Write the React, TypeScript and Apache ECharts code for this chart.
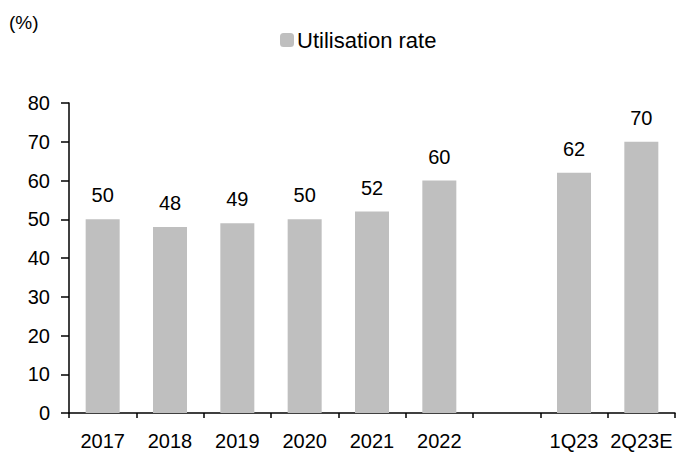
import React, { useEffect, useRef } from "react";
import * as echarts from "echarts";

const categories = ["2017", "2018", "2019", "2020", "2021", "2022", "", "1Q23", "2Q23E"];
const utilisation = [50, 48, 49, 50, 52, 60, null, 62, 70];
const yTicks = { min: 0, max: 80, interval: 10 };

export default function App() {
  const ref = useRef<HTMLDivElement>(null);
  useEffect(() => {
    if (!ref.current) return;
    const chart = echarts.init(ref.current, undefined, { renderer: "svg" });
    const font = "Liberation Sans, Arial, sans-serif";
    chart.setOption({
      animation: false,
      textStyle: { fontFamily: font },
      graphic: [
        {
          type: "text",
          left: 9,
          top: 13,
          style: { text: "(%)", fontSize: 19, fontFamily: font, fill: "#000" },
        },
      ],
      legend: {
        top: 24,
        left: 275,
        itemWidth: 14,
        itemHeight: 14,
        itemGap: 4,
        textStyle: { fontSize: 22, color: "#000", fontFamily: font, padding: [0, 0, 0, -2] },
        data: ["Utilisation rate"],
      },
      grid: { left: 69, right: 13, top: 103, bottom: 39, containLabel: false },
      xAxis: {
        type: "category",
        data: categories,
        axisLine: { lineStyle: { color: "#000", width: 1.5 } },
        axisTick: { show: true, length: 5, lineStyle: { color: "#000", width: 1.5 } },
        axisLabel: { color: "#000", fontSize: 20, margin: 18, fontFamily: font, interval: 0 },
      },
      yAxis: {
        type: "value",
        min: yTicks.min,
        max: yTicks.max,
        interval: yTicks.interval,
        splitLine: { show: false },
        axisLine: { show: true, lineStyle: { color: "#000", width: 1.5 } },
        axisTick: { show: true, length: 8, lineStyle: { color: "#000", width: 1.5 } },
        axisLabel: { color: "#000", fontSize: 20, margin: 19, fontFamily: font },
      },
      series: [
        {
          name: "Utilisation rate",
          type: "bar",
          data: utilisation,
          barWidth: 34,
          itemStyle: { color: "#bfbfbf" },
          label: {
            show: true,
            position: "top",
            distance: 14,
            color: "#000",
            fontSize: 20,
            fontFamily: font,
          },
        },
      ],
    });
    return () => chart.dispose();
  }, []);
  return <div ref={ref} style={{ width: 688, height: 452, position: "absolute", left: 0, top: 0 }} />;
}
